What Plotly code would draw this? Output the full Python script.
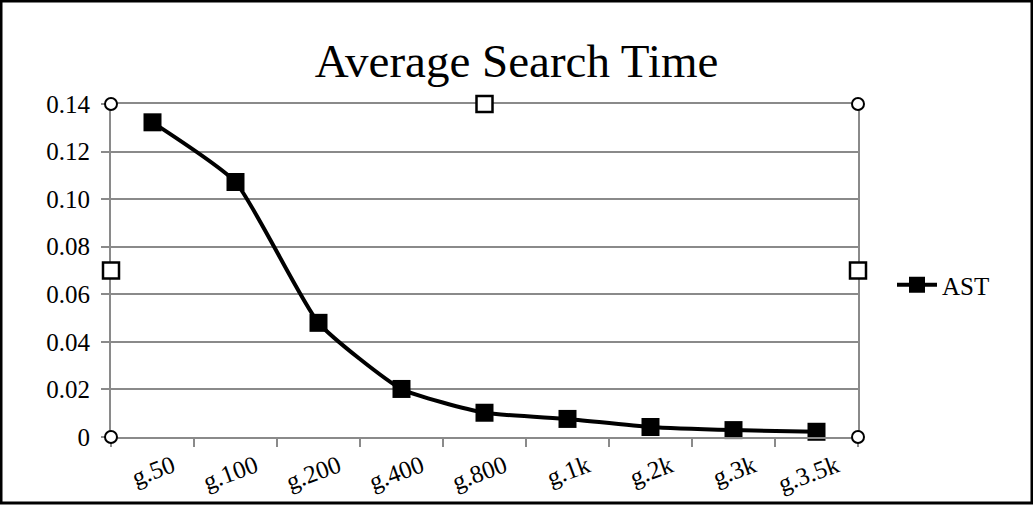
import plotly.graph_objects as go

categories = ["g.50", "g.100", "g.200", "g.400", "g.800", "g.1k", "g.2k", "g.3k", "g.3.5k"]
ast_values = [0.1323, 0.1072, 0.0480, 0.0202, 0.0102, 0.0076, 0.0042, 0.0029, 0.0022]
y_tickvals = [0, 0.02, 0.04, 0.06, 0.08, 0.10, 0.12, 0.14]
y_ticktext = ["0", "0.02", "0.04", "0.06", "0.08", "0.10", "0.12", "0.14"]

W, H = 1033, 505
ML, MR, MT, MB = 111, 175, 104, 68
PW, PH = W - ML - MR, H - MT - MB
GRID = "#8a8a8a"
FONT = "Liberation Serif"

fig = go.Figure()
fig.add_trace(go.Scatter(
    x=categories, y=ast_values, name="AST", mode="lines+markers",
    line=dict(color="black", width=4, shape="spline", smoothing=0.5),
    marker=dict(symbol="square", size=18, color="black"),
    cliponaxis=False,
))

def px_x(p):
    return (p - ML) / PW

def px_y(p):
    return (H - MB - p) / PH

shapes = []
# outer frame of the picture
shapes.append(dict(type="rect", xref="paper", yref="paper",
                   x0=px_x(1), x1=px_x(1032), y0=px_y(503), y1=px_y(1),
                   line=dict(color="black", width=3), fillcolor="rgba(0,0,0,0)", layer="above"))
# selection handles: circles at corners
for cx, cy in [(0, 0), (1, 0), (0, 1), (1, 1)]:
    shapes.append(dict(type="circle", xref="x domain", yref="y domain",
                       xsizemode="pixel", ysizemode="pixel", xanchor=cx, yanchor=cy,
                       x0=-6, x1=6, y0=-6, y1=6,
                       line=dict(color="black", width=2), fillcolor="white", layer="above"))
# squares at mid edges
for cx, cy in [(0.5, 1), (0, 0.5), (1, 0.5)]:
    shapes.append(dict(type="rect", xref="x domain", yref="y domain",
                       xsizemode="pixel", ysizemode="pixel", xanchor=cx, yanchor=cy,
                       x0=-8, x1=8, y0=-8, y1=8,
                       line=dict(color="black", width=2.5), fillcolor="white", layer="above"))

fig.update_layout(
    width=W, height=H,
    margin=dict(l=ML, r=MR, t=MT, b=MB, autoexpand=False),
    paper_bgcolor="white", plot_bgcolor="white",
    font=dict(family=FONT, color="black"),
    title=dict(text="Average Search Time", x=0.5, xanchor="center",
               y=1 - 61 / H, yanchor="middle", yref="container",
               font=dict(family=FONT, size=47, color="black")),
    showlegend=True,
    legend=dict(x=px_x(892), y=px_y(285), xanchor="left", yanchor="middle",
                font=dict(family=FONT, size=25, color="black"),
                bgcolor="rgba(0,0,0,0)", itemwidth=40),
    shapes=shapes,
)
fig.update_xaxes(
    type="category", range=[-0.5, len(categories) - 0.5],
    showline=True, linecolor=GRID, linewidth=2, mirror=True,
    showgrid=False, zeroline=False,
    tickson="boundaries", ticks="outside", ticklen=8, tickcolor=GRID, tickwidth=2,
    tickangle=-20, ticklabelshift=20, ticklabelstandoff=3,
    tickfont=dict(family=FONT, size=25, color="black"),
)
fig.update_yaxes(
    range=[0, 0.14], tickvals=y_tickvals, ticktext=y_ticktext,
    showline=True, linecolor=GRID, linewidth=2, mirror=True,
    showgrid=True, gridcolor=GRID, gridwidth=2, zeroline=False,
    ticks="outside", ticklen=8, tickcolor=GRID, tickwidth=2, ticklabelstandoff=6,
    tickfont=dict(family=FONT, size=25, color="black"),
)

fig.write_html("out.html", config={"displayModeBar": False},
               post_script="document.body.style.margin='0px';")
